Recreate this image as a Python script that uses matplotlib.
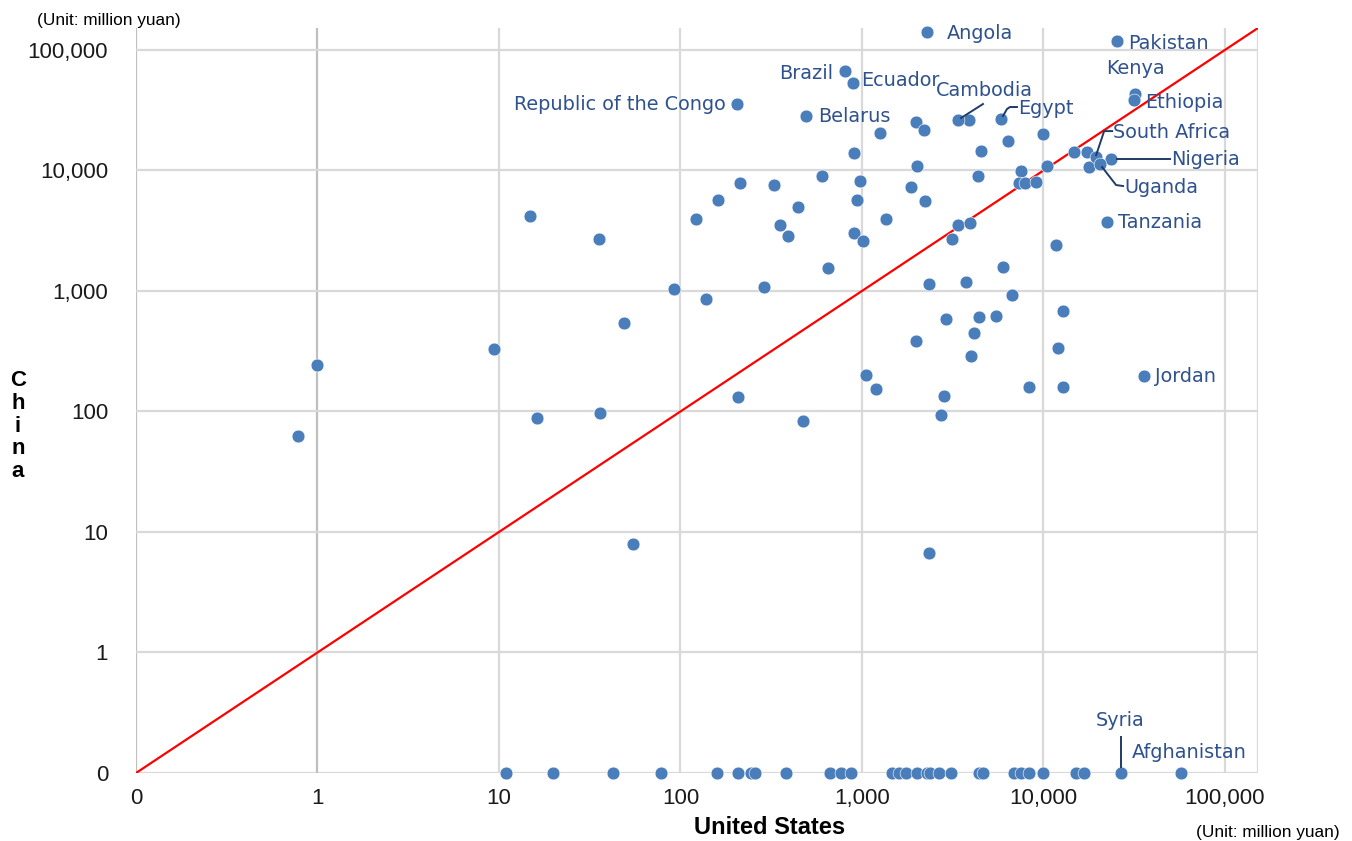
import matplotlib
matplotlib.use("Agg")
import matplotlib.pyplot as plt
import numpy as np
from matplotlib.ticker import FixedLocator, FixedFormatter, NullLocator

# ---------------- data (million yuan) ----------------
# labelled countries
countries = ["Angola", "Pakistan", "Kenya", "Ethiopia", "Brazil", "Ecuador",
             "Republic of the Congo", "Belarus", "Cambodia", "Egypt",
             "South Africa", "Nigeria", "Uganda", "Tanzania", "Jordan",
             "Syria", "Afghanistan"]
us_labelled = [2280, 25400, 31900, 31500, 806, 892, 205, 491, 3380, 5830,
               19500, 23600, 20500, 22400, 35800, 26600, 57300]
cn_labelled = [140000, 118000, 43000, 38400, 66700, 53100, 35600, 28300, 26200, 26700,
               12900, 12450, 11300, 3740, 198, 0, 0]

# other countries (unlabelled) with both values non-zero
us_other = [0.78, 1.0, 9.4, 14.8, 16.2, 35.6, 35.9, 48.8, 54.7, 92, 122, 138, 161, 207,
            213, 288, 327, 353, 391, 444, 473, 602, 650, 904, 904, 938, 975, 1013,
            1052, 1195, 1257, 1356, 1862, 1984, 1984, 2010, 2197, 2225, 2340, 2340,
            2724, 2830, 2900, 3130, 3380, 3740, 3940, 3990, 4140, 4360, 4400, 4530,
            5470, 5980, 6370, 6700, 7520, 7350, 7900, 8320, 9100, 9940, 10450, 11720,
            11970, 12800, 12800, 14720, 17380, 17820, 3880]
cn_other = [62, 245, 332, 4200, 89, 2700, 98, 545, 7.9, 1043, 3960, 861, 5700, 133,
            7880, 1083, 7590, 3530, 2870, 4990, 84, 9000, 1556, 13960, 3035, 5700, 8180,
            2600, 202, 155, 20460, 3960, 7300, 25200, 386, 10900, 21660, 5590, 1148,
            6.65, 94, 135, 589, 2700, 3530, 1192, 3670, 290, 451, 9000, 611, 14520,
            623, 1586, 17540, 930, 9900, 7880, 7880, 161, 8020, 20050, 10900, 2415,
            338, 685, 161, 14230, 14230, 10690, 26200]

# unlabelled countries where the China value is 0
us_china_zero = [10.9, 19.8, 42.5, 78, 158, 208, 245, 258, 382, 664, 765, 866, 1470, 1600,
                 1740, 2010, 2290, 2380, 2640, 3075, 4400, 4650, 6900, 7470, 8320, 9970,
                 15100, 16750]
cn_china_zero = [0] * len(us_china_zero)

x_ticks = [0, 1, 10, 100, 1000, 10000, 100000]
tick_labels = ["0", "1", "10", "100", "1,000", "10,000", "100,000"]
x_title = "United States"
y_title = "China"
unit_text = "(Unit: million yuan)"

# ---------------- style ----------------
ZERO_POS = 0.1        # zero is drawn one decade below 1
AX_MAX = 152000
POINT_COLOR = "#4a7ebb"
LABEL_COLOR = "#2f528f"
GRID_COLOR = "#d9d9d9"

def pos(v):
    v = np.asarray(v, dtype=float)
    return np.where(v <= 0, ZERO_POS, v)

fig = plt.figure(figsize=(13.52, 8.41), dpi=100)
ax = fig.add_axes([136 / 1352, 1 - 773 / 841, (1258 - 136) / 1352, (773 - 28) / 841])
ax.set_xscale("log")
ax.set_yscale("log")
ax.set_xlim(ZERO_POS, AX_MAX)
ax.set_ylim(ZERO_POS, AX_MAX)

tick_pos = pos(x_ticks)
ax.xaxis.set_major_locator(FixedLocator(tick_pos))
ax.xaxis.set_major_formatter(FixedFormatter(tick_labels))
ax.yaxis.set_major_locator(FixedLocator(tick_pos))
ax.yaxis.set_major_formatter(FixedFormatter(tick_labels))
ax.xaxis.set_minor_locator(NullLocator())
ax.yaxis.set_minor_locator(NullLocator())

for s in ax.spines.values():
    s.set_visible(False)
ax.tick_params(length=0, labelsize=16, labelcolor="#1a1a1a")
ax.tick_params(axis="x", pad=11)
ax.tick_params(axis="y", pad=20)
for lab in ax.get_xticklabels() + ax.get_yticklabels():
    lab.set_fontfamily("Liberation Sans")

# grid
for tp in tick_pos:
    c = "#bfbfbf" if tp in (ZERO_POS, 1.0) else GRID_COLOR
    ax.axvline(tp, color=c, lw=1.6, zorder=0)
    ax.axhline(tp, color=GRID_COLOR, lw=1.6, zorder=0)
ax.axvline(AX_MAX, color=GRID_COLOR, lw=1.6, zorder=0)

# y = x line
lims = np.array([ZERO_POS, AX_MAX])
ax.plot(lims, lims, color="#ff0000", lw=1.6, zorder=1)

# points
for xs_, ys_ in ((us_other, cn_other), (us_china_zero, cn_china_zero),
                 (us_labelled, cn_labelled)):
    ax.scatter(pos(xs_), pos(ys_), s=85, color=POINT_COLOR,
               edgecolors="white", linewidths=0.4, zorder=3, clip_on=False)

# label placement (offset pixels) and optional leader lines
label_style = {
    "Angola": ((20, -1), "left", None),
    "Pakistan": ((11, -2), "left", None),
    "Kenya": ((-29, 26), "left", None),
    "Ethiopia": ((11, -2), "left", None),
    "Brazil": ((-12, -2), "right", None),
    "Ecuador": ((8, 3), "left", None),
    "Republic of the Congo": ((-11, -1), "right", None),
    "Belarus": ((12, -1), "left", None),
    "Cambodia": ((-22, 30), "left", [(3, 2), (25, 16)]),
    "Egypt": ((17, 11), "left", [(2, 3), (6, 10), (9, 12), (16, 12)]),
    "South Africa": ((17, 25), "left", [(0, 2), (8, 26), (16, 26)]),
    "Nigeria": ((60, -1), "left", [(6, 0), (59, 0)]),
    "Uganda": ((24, -23), "left", [(2, -3), (16, -21), (23, -22)]),
    "Tanzania": ((11, -1), "left", None),
    "Jordan": ((11, -1), "left", None),
    "Syria": ((0, 53), "center", [(0, 6), (0, 36)]),
    "Afghanistan": ((-49, 21), "left", None),
}

fig.canvas.draw()
for name, ux, cy in zip(countries, us_labelled, cn_labelled):
    (dx, dy), ha, leader = label_style[name]
    xy = (float(pos(ux)), float(pos(cy)))
    px, py = ax.transData.transform(xy)
    ax.annotate(name, xy=xy, xytext=(dx, dy),
                textcoords="offset pixels", ha=ha, va="center",
                fontsize=13.9, color=LABEL_COLOR, family="DejaVu Sans",
                annotation_clip=False, zorder=4)
    if leader:
        xs = [px + a for a, b in leader]
        ys = [py + b for a, b in leader]
        fig.add_artist(plt.Line2D(xs, ys, transform=None, color="#1f3b66",
                                  lw=1.4, zorder=5))

# titles
fig.text(770 / 1352, 1 - 828 / 841, x_title, ha="center", va="center",
         fontsize=17, fontweight="bold", family="Liberation Sans")
fig.text(18 / 1352, 1 - 426 / 841, "\n".join(y_title), ha="center", va="center",
         fontsize=16, fontweight="bold", family="Liberation Sans", linespacing=1.12)
fig.text(37 / 1352, 1 - 20 / 841, unit_text, ha="left", va="center",
         fontsize=12.4, family="Liberation Sans")
fig.text(1340 / 1352, 1 - 833 / 841, unit_text, ha="right", va="center",
         fontsize=12.4, family="Liberation Sans")

fig.savefig("out.png", dpi=100)
